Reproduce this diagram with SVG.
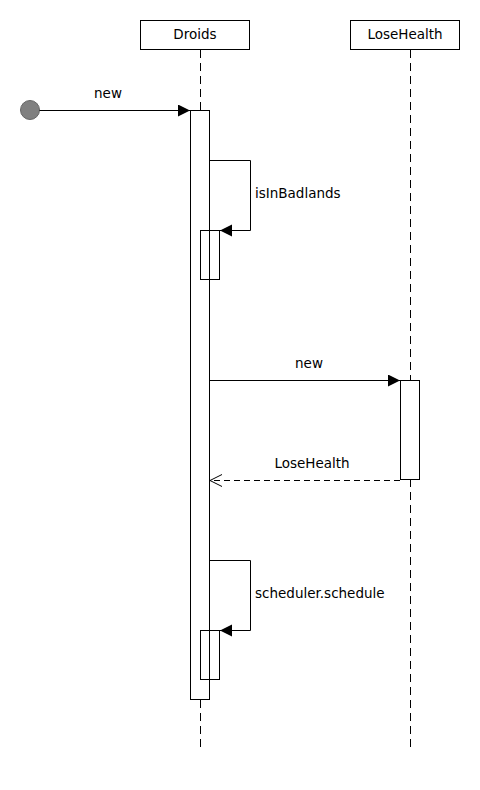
<svg xmlns="http://www.w3.org/2000/svg" width="480" height="790" viewBox="0 0 480 790">
<style>
.box{fill:#fff;stroke:#000;stroke-width:1}
.life{stroke:#000;stroke-width:1;stroke-dasharray:8,5;fill:none}
.act{fill:#fff;stroke:#000;stroke-width:1}
.nest{fill:none;stroke:#000;stroke-width:1}
.msg{stroke:#000;stroke-width:1;fill:none}
.ret{stroke:#000;stroke-width:1;fill:none;stroke-dasharray:6,4}
text{font-family:"DejaVu Sans",sans-serif;font-size:13.5px;fill:#000}
</style>
<defs>
<marker id="filled" markerWidth="14" markerHeight="14" refX="12" refY="6" orient="auto" markerUnits="userSpaceOnUse">
<path d="M0,0 L12,6 L0,12 Z" fill="#000"/>
</marker>
<marker id="open" markerWidth="14" markerHeight="14" refX="12" refY="6" orient="auto" markerUnits="userSpaceOnUse">
<path d="M0,0 L12,6 L0,12" fill="none" stroke="#000"/>
</marker>
</defs>
<rect width="480" height="790" fill="#fff"/>
<g id="droids">
<rect class="box" x="140.5" y="20.5" width="109" height="29"/>
<text x="195" y="39" text-anchor="middle">Droids</text>
<line class="life" x1="200.5" y1="50" x2="200.5" y2="748"/>
</g>
<g id="losehealth">
<rect class="box" x="350.5" y="20.5" width="109" height="29"/>
<text x="405" y="39" text-anchor="middle">LoseHealth</text>
<line class="life" x1="410.5" y1="50" x2="410.5" y2="748"/>
</g>
<g id="start">
<circle cx="30" cy="110" r="9.5" fill="#808080" stroke="#666" stroke-width="1"/>
</g>
<g id="droids-activation">
<rect class="act" x="190.5" y="110.5" width="19" height="589"/>
<rect class="nest" x="200.5" y="230.5" width="19" height="49"/>
<rect class="nest" x="200.5" y="630.5" width="19" height="49"/>
</g>
<g id="losehealth-activation">
<rect class="act" x="400.5" y="380.5" width="19" height="99"/>
</g>
<g id="connectors">
<line class="msg" x1="39.5" y1="110.5" x2="190" y2="110.5" marker-end="url(#filled)"/>
<text x="108" y="98" text-anchor="middle">new</text>
<polyline class="msg" points="209.5,160.5 250.5,160.5 250.5,230.5 220,230.5" marker-end="url(#filled)"/>
<text x="255" y="198">isInBadlands</text>
<line class="msg" x1="209.5" y1="380.5" x2="400" y2="380.5" marker-end="url(#filled)"/>
<text x="309" y="368" text-anchor="middle">new</text>
<line class="ret" x1="400" y1="480.5" x2="210" y2="480.5" marker-end="url(#open)"/>
<text x="312" y="468" text-anchor="middle">LoseHealth</text>
<polyline class="msg" points="209.5,560.5 250.5,560.5 250.5,630.5 220,630.5" marker-end="url(#filled)"/>
<text x="255" y="598">scheduler.schedule</text>
</g>
</svg>
